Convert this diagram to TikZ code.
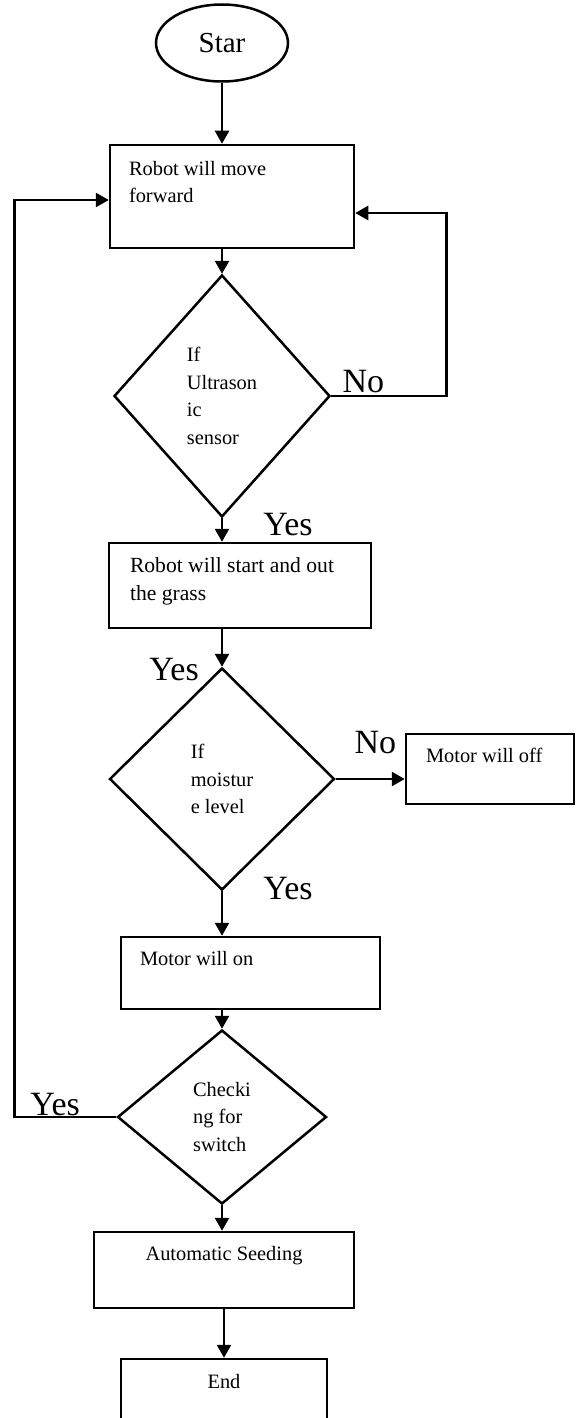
\documentclass[tikz,border=0pt]{standalone}
\usepackage{fontspec}
\setmainfont{Liberation Serif}
\usetikzlibrary{shapes.geometric,arrows.meta}

\begin{document}
\begin{tikzpicture}[
	x=0.5pt, y=-0.5pt, line width=1.25pt,
	terminal/.style={ ellipse, draw, inner sep=0pt, minimum width=66pt, minimum height=38.5pt, font=\fontsize{14.5}{16}\selectfont },
	block/.style={ rectangle, draw, inner sep=0pt },
	decision/.style={ diamond, draw, inner sep=0pt, align=left, font=\fontsize{10.2}{13.7}\selectfont },
	boxtext/.style={ anchor=north west, align=left, inner sep=0pt, font=\fontsize{10.2}{13.5}\selectfont },
	yesno/.style={ inner sep=0pt, font=\fontsize{17}{20}\selectfont },
	arrow/.style={ -{Triangle[length=6.5pt,width=7pt]} }
]

\useasboundingbox (0,0) rectangle (575,1418);

\node at (222,43) (start) [terminal] {Star};
\node at (232,196.5) (move) [block, minimum width=122pt, minimum height=51.5pt] {};
\node at ([shift={(9.5pt,-8.2pt)}]move.north west) (movetxt) [boxtext] {Robot will move\\forward};
\node at (222,396) (ultra) [decision, minimum width=108pt, minimum height=121pt] {If\\Ultrason\\ic\\sensor};
\node at (240,585.5) (grass) [block, minimum width=131pt, minimum height=42.5pt] {};
\node at ([shift={(10.5pt,-7.2pt)}]grass.north west) (grasstxt) [boxtext, font=\fontsize{10.8}{14}\selectfont] {Robot will start and out\\the grass};
\node at (222,779) (moist) [decision, minimum width=112.5pt, minimum height=111pt] {If\\moistur\\e level};
\node at (490,769) (off) [block, minimum width=84pt, minimum height=35pt] {};
\node at ([shift={(10pt,-7.2pt)}]off.north west) (offtxt) [boxtext] {Motor will off};
\node at (250.5,973) (on) [block, minimum width=129.5pt, minimum height=36pt] {};
\node at ([shift={(9.5pt,-7.2pt)}]on.north west) (ontxt) [boxtext] {Motor will on};
\node at (222,1117) (check) [decision, minimum width=104.5pt, minimum height=87pt] {Checki\\ng for\\switch};
\node at (224,1270) (seed) [block, minimum width=130pt, minimum height=38pt] {};
\node at ([yshift=-7.2pt]seed.north) (seedtxt) [boxtext, anchor=north] {Automatic Seeding};
\node at (224,1409) (end) [block, minimum width=103pt, minimum height=50pt] {};
\node at ([yshift=-7.7pt]end.north) (endtxt) [boxtext, anchor=north] {End};

\draw[arrow] (start.south) -- (start.south |- move.north);
\draw[arrow] (ultra.north |- move.south) -- (ultra.north);
\draw[arrow] (ultra.south) -- (ultra.south |- grass.north) node[yesno, anchor=base west, xshift=20pt, yshift=3pt] {Yes};
\draw[arrow] (ultra.east) node[yesno, anchor=base west, xshift=5pt, yshift=2pt] {No} -- ++(115,0) |- ([yshift=-8.25pt]move.east);
\draw[arrow] (moist.north |- grass.south) -- (moist.north) node[yesno, anchor=base east, xshift=-11pt, yshift=-7pt] {Yes};
\draw[arrow] (moist.east) node[yesno, anchor=base west, xshift=8.75pt, yshift=13pt] {No} -- (moist.east -| off.west);
\draw[arrow] (moist.south) node[yesno, anchor=base west, xshift=20pt, yshift=-4pt] {Yes} -- (moist.south |- on.north);
\draw[arrow] (check.north |- on.south) -- (check.north);
\draw[arrow] (check.west) -- ++(-102,0) node[yesno, anchor=base west, xshift=7.5pt, yshift=1pt] {Yes} |- ([yshift=-1.75pt]move.west);
\draw[arrow] (check.south) -- (check.south |- seed.north);
\draw[arrow] (seed.south) -- (seed.south |- end.north);

\end{tikzpicture}
\end{document}
